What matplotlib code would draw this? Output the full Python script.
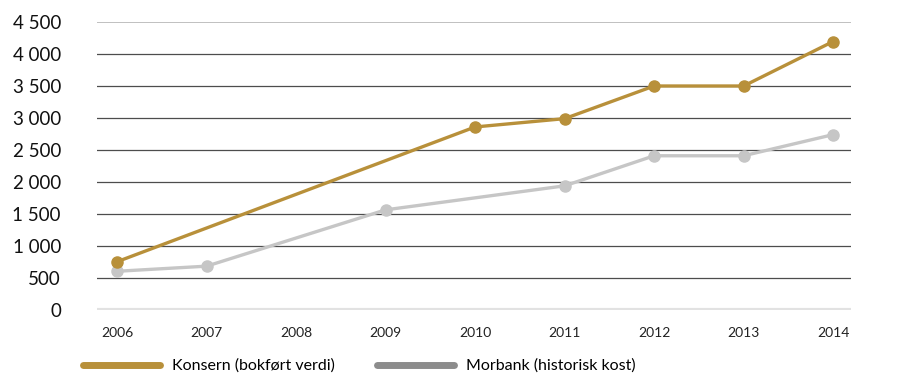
import numpy as np
import matplotlib.pyplot as plt
from matplotlib.lines import Line2D

plt.rcParams['font.family'] = ['Lato', 'DejaVu Sans']

# data
years = [2006, 2007, 2008, 2009, 2010, 2011, 2012, 2013, 2014]
konsern_years = [2006, 2010, 2011, 2012, 2013, 2014]
konsern_vals = [755, 2860, 2990, 3500, 3500, 4195]
morbank_years = [2006, 2007, 2009, 2011, 2012, 2013, 2014]
morbank_vals = [605, 685, 1565, 1940, 2410, 2410, 2740]
y_ticks = [0, 500, 1000, 1500, 2000, 2500, 3000, 3500, 4000, 4500]
y_labels = ['0', '500', '1 000', '1 500', '2 000', '2 500', '3 000', '3 500', '4 000', '4 500']
labels = ['Konsern (bokført verdi)', 'Morbank (historisk kost)']

gold = '#b8903a'
light_gray = '#c6c6c6'
legend_gray = '#8c8c8c'

fig = plt.figure(figsize=(8.97, 3.77), dpi=100)
ax = fig.add_axes([97/897, 1 - 310/377, (851 - 97)/897, (310 - 22)/377])

# gridlines
for v in y_ticks[1:-1]:
    ax.axhline(v, color='#4d4d4d', lw=0.9, zorder=1)
ax.axhline(4500, color='#b5b5b5', lw=1.2, zorder=1)
ax.axhline(0, color='#e2e2e2', lw=3, zorder=1)

ax.plot(morbank_years, morbank_vals, color=light_gray, lw=2.4, marker='o',
        markersize=8, zorder=3)
ax.plot(konsern_years, konsern_vals, color=gold, lw=2.4, marker='o',
        markersize=8, zorder=4)

ax.set_xlim(2006 - 0.225, 2014 + 0.2)
ax.set_ylim(0, 4500)
ax.set_xticks(years)
ax.set_xticklabels([str(y) for y in years], fontsize=10, color='#222222')
ax.set_yticks(y_ticks)
ax.set_yticklabels(y_labels, fontsize=13.5, color='#111111')
ax.tick_params(axis='both', length=0)
ax.tick_params(axis='y', pad=26)
ax.tick_params(axis='x', pad=12)
for s in ax.spines.values():
    s.set_visible(False)

handles = [Line2D([], [], color=gold, lw=5, solid_capstyle='round'),
           Line2D([], [], color=legend_gray, lw=5, solid_capstyle='round')]
fig.legend(handles, labels, loc='center left', bbox_to_anchor=(83/897, 1 - 366/377),
           ncol=2, frameon=False, fontsize=11.5, handlelength=4.8,
           handletextpad=0.8, columnspacing=2.6, borderaxespad=0, borderpad=0)

fig.savefig('out.png', dpi=100)
